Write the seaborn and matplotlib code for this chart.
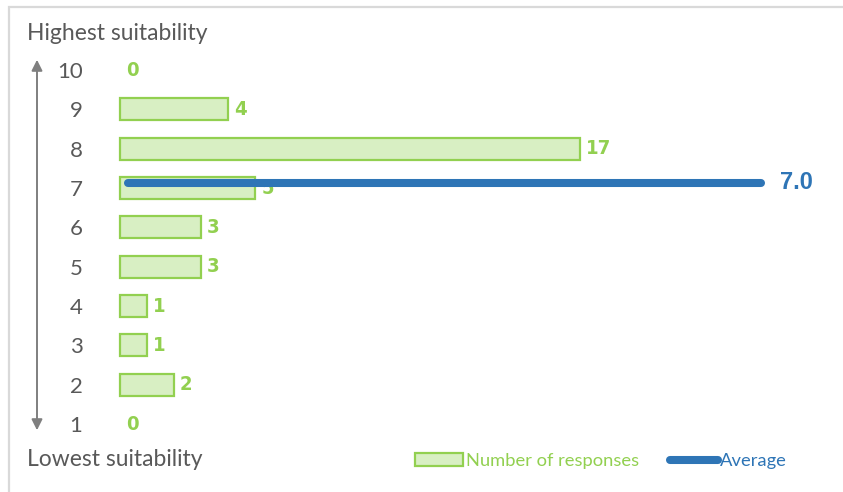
import matplotlib
matplotlib.use('Agg')
import matplotlib.pyplot as plt
import seaborn as sns
import pandas as pd
from matplotlib.patches import Patch, Rectangle, FancyArrowPatch
from matplotlib.lines import Line2D

# data
scores = [10, 9, 8, 7, 6, 5, 4, 3, 2, 1]
responses = [0, 4, 17, 5, 3, 3, 1, 1, 2, 0]
average = 7.0

top_label = 'Highest suitability'
bottom_label = 'Lowest suitability'
bar_legend = 'Number of responses'
avg_legend = 'Average'

green_edge = '#92D050'
green_fill = '#D8EFC3'
blue = '#2E75B6'
grey_text = '#595959'

df = pd.DataFrame({'score': scores, 'responses': responses})

sns.set_style('white')
plt.rcParams['font.family'] = ['Lato', 'DejaVu Sans']

W, H = 843, 492
fig = plt.figure(figsize=(W / 100, H / 100), dpi=100)

# pixel geometry: bars start at x=120, 27.06 px per response, rows 39.33 px apart
unit = 27.06
row = 39.33
x0 = 120
ax_left = 95
ax = fig.add_axes([ax_left / W, 0, 1 - ax_left / W, 1])

sns.barplot(data=df, x='responses', y='score', orient='h', native_scale=True,
            color=green_fill, saturation=1, edgecolor=green_edge, linewidth=1.6,
            width=0.56, ax=ax)
# empty categories show no outline
for p in ax.patches:
    if p.get_width() == 0:
        p.set_visible(False)

ax.set_xlim((ax_left - x0) / unit, (W - x0) / unit)
ax.set_ylim(1 - (H - 424) / row, 1 + 424 / row)

# value labels
for s, r in zip(scores, responses):
    ax.text(r + 0.22, s, str(r), ha='left', va='center', color=green_edge,
            fontsize=14.5, fontweight='bold', fontstretch='condensed',
            family=['Liberation Sans Narrow', 'DejaVu Sans'])

# average line across the row of the average score
ax.plot([0.3, 23.7], [average + 0.14, average + 0.14], color=blue, lw=5.8,
        solid_capstyle='round', zorder=5)
ax.text(24.4, average + 0.14, f'{average:.1f}', ha='left', va='center',
        color=blue, fontsize=17, fontweight='bold', family='Liberation Sans')

ax.set_yticks(scores)
ax.set_yticklabels([str(s) for s in scores])
ax.tick_params(axis='y', length=0, pad=9, labelsize=16, labelcolor=grey_text)
ax.set_xticks([])
ax.set_xlabel('')
ax.set_ylabel('')
for sp in ax.spines.values():
    sp.set_visible(False)
ax.patch.set_alpha(0)

# end labels and arrow
fig.text(27 / W, 1 - 33 / H, top_label, ha='left', va='center',
         color=grey_text, fontsize=16.5)
fig.text(27 / W, 1 - 460 / H, bottom_label, ha='left', va='center',
         color=grey_text, fontsize=16.5)
arrow = FancyArrowPatch((37 / W, 1 - 57 / H), (37 / W, 1 - 433 / H),
                        transform=fig.transFigure, arrowstyle='<|-|>',
                        mutation_scale=16, color='#7F7F7F', lw=1.4)
fig.add_artist(arrow)

# outer frame
fig.add_artist(Rectangle((8.5 / W, -0.1), 1.2, 1 - 6.5 / H + 0.1,
                         transform=fig.transFigure, fill=False,
                         edgecolor='#D9D9D9', lw=1.6))

# legend
handles = [Patch(facecolor=green_fill, edgecolor=green_edge, linewidth=1.6),
           Line2D([0], [0], color=blue, lw=5.8, solid_capstyle='round')]
leg = fig.legend(handles, [bar_legend, avg_legend], loc='center left',
                 bbox_to_anchor=(406 / W, 1 - 461 / H), ncol=2, frameon=False,
                 fontsize=13.2, handlelength=2.6, handleheight=0.65,
                 handletextpad=0.15, columnspacing=1.7, borderpad=0,
                 labelcolor=[green_edge, blue])

fig.savefig('out.png', dpi=100)
